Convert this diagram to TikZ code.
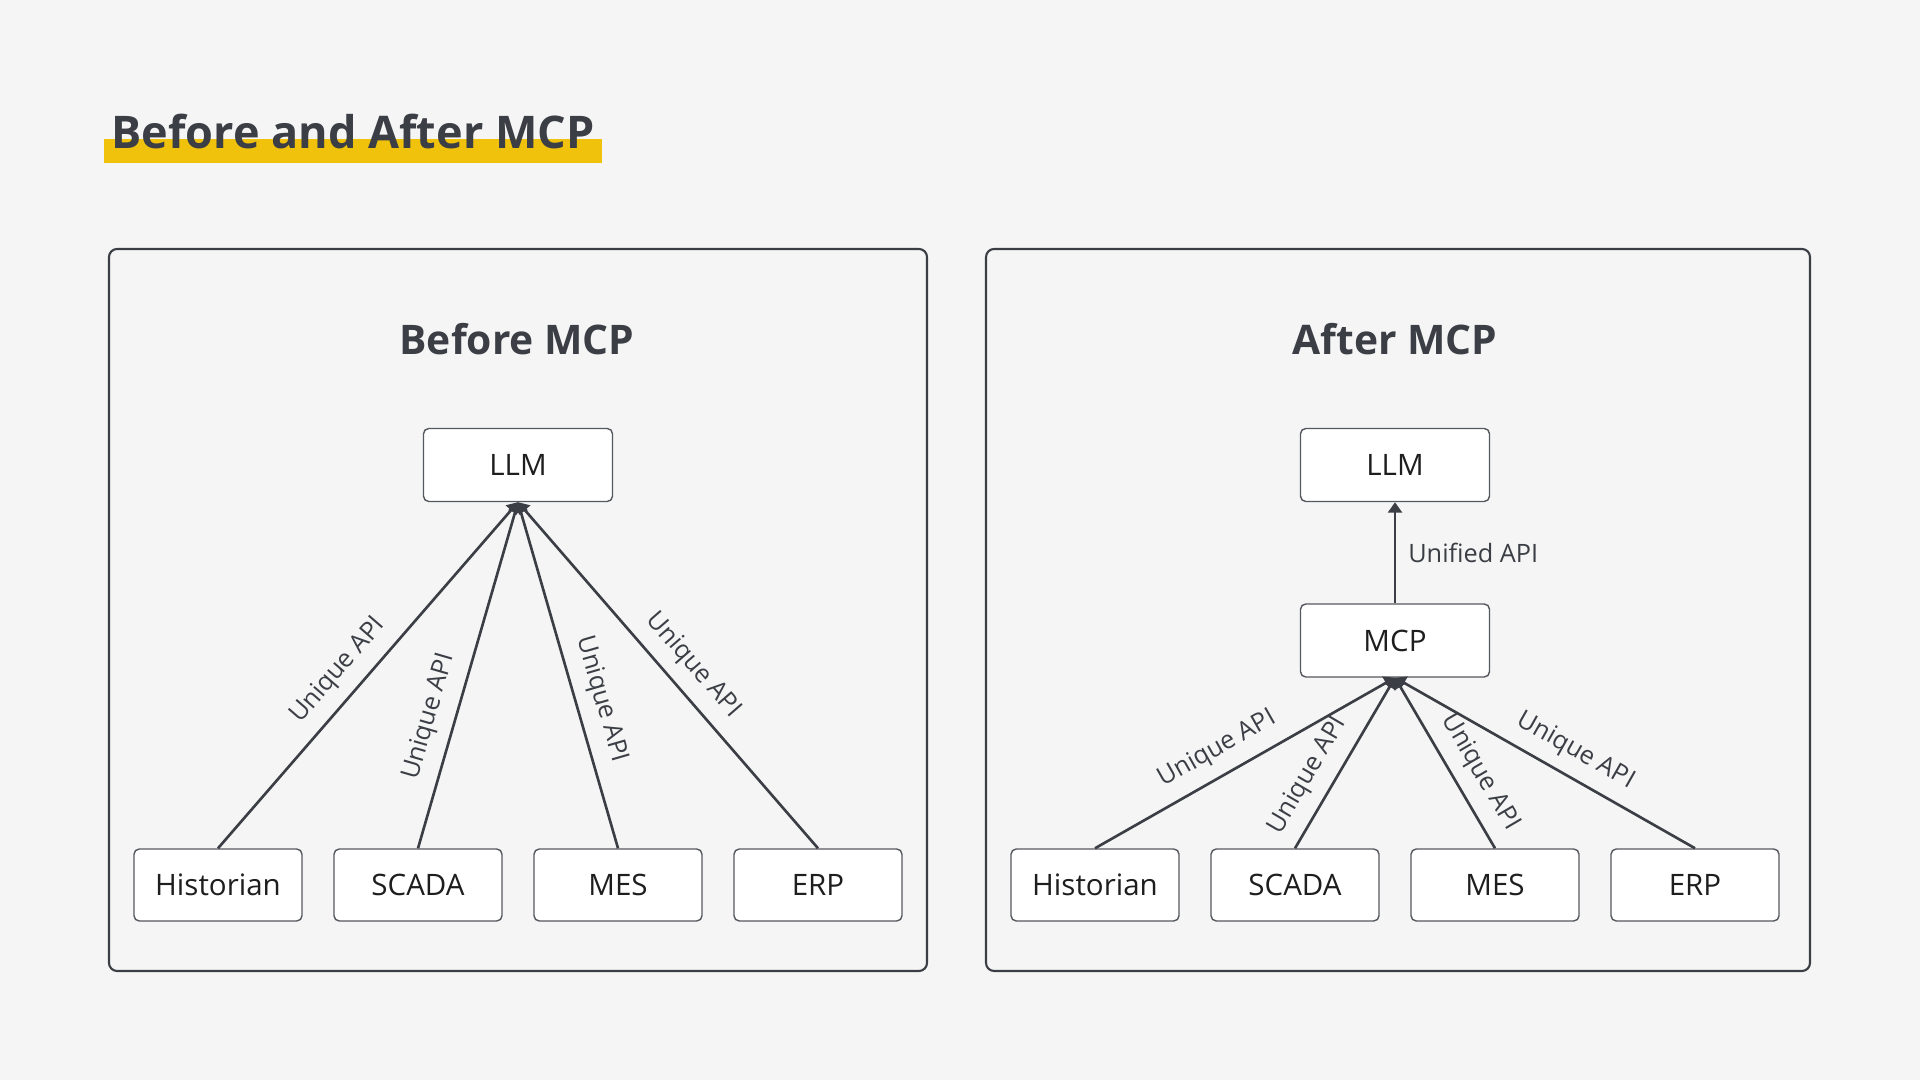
\documentclass[tikz,border=0pt]{standalone}
\usepackage{fontspec}
\setmainfont{Open Sans}
\usepackage{xcolor}
\definecolor{mcpbg}{HTML}{F5F5F5}
\definecolor{mcpdark}{HTML}{3B3E45}
\definecolor{mcpyellow}{HTML}{F0C20C}
\definecolor{mcpframe}{HTML}{55585E}
\definecolor{mcptext}{HTML}{1E1E1E}
\usetikzlibrary{arrows.meta}

\tikzset{
  sysbox/.style={draw=mcpframe, line width=0.4pt, fill=white, rounded corners=1.5pt,
    minimum width=1.68cm, minimum height=0.72cm, inner sep=0pt,
    font=\fontsize{8.4}{10}\selectfont, text=mcptext},
  topbox/.style={sysbox, minimum width=1.89cm, minimum height=0.73cm},
  apilink/.style={draw=mcpdark, line width=0.75pt, -{Triangle[width=4pt,length=3pt]}},
  apilabel/.style={font=\fontsize{7.2}{9}\selectfont, text=mcpdark, sloped, above, inner sep=3.4pt},
  panel/.style={draw=mcpdark, line width=0.6pt, rounded corners=2.3pt},
  paneltitle/.style={font=\bfseries\fontsize{11.6}{14}\selectfont, text=mcpdark, anchor=base, inner sep=0pt},
}

\begin{document}
\begin{tikzpicture}
  % Background
  \fill[mcpbg] (0,0) rectangle (19.2,10.8);
  \useasboundingbox (0,0) rectangle (19.2,10.8);

  % Title with marker bar
  \fill[mcpyellow] (1.04,9.17) rectangle (6.02,9.41);
  \node[anchor=base west, inner sep=0pt, font=\bfseries\fontsize{12.8}{15}\selectfont, text=mcpdark] (title) at (1.11,9.315) {Before and After MCP};

  % Before MCP panel
  \draw[panel] (1.09,1.09) rectangle (9.27,8.31);
  \node[paneltitle] (beforetitle) at (5.17,7.25) {Before MCP};
  \node[topbox] (llmA) at (5.18,6.15) {LLM};
  \foreach \sys [count=\i] in {Historian,SCADA,MES,ERP}
    \node[sysbox] (sysA\i) at ({0.18+2*\i},1.95) {\sys};
  \draw[apilink] (sysA1.north) -- node[apilabel, pos=0.465] {Unique API} (llmA.south);
  \draw[apilink] (sysA2.north) -- node[apilabel, pos=0.36] {Unique API} (llmA.south);
  \draw[apilink] (sysA3.north) -- node[apilabel, pos=0.41] {Unique API} (llmA.south);
  \draw[apilink] (sysA4.north) -- node[apilabel, pos=0.48] {Unique API} (llmA.south);

  % After MCP panel
  \draw[panel] (9.86,1.09) rectangle (18.10,8.31);
  \node[paneltitle] (aftertitle) at (13.95,7.25) {After MCP};
  \node[topbox] (llmB) at (13.95,6.15) {LLM};
  \node[topbox] (mcp) at (13.95,4.395) {MCP};
  \foreach \sys [count=\i] in {Historian,SCADA,MES,ERP}
    \node[sysbox] (sysB\i) at ({8.95+2*\i},1.95) {\sys};
  \draw[apilink] (mcp.north) -- node[midway, right, inner sep=3.4pt, font=\fontsize{7.2}{9}\selectfont, text=mcpdark] {Unified API} (llmB.south);
  \draw[apilink] (sysB1.north) -- node[apilabel, pos=0.45] {Unique API} (mcp.south);
  \draw[apilink] (sysB2.north) -- node[apilabel, pos=0.35] {Unique API} (mcp.south);
  \draw[apilink] (sysB3.north) -- node[apilabel, pos=0.37] {Unique API} (mcp.south);
  \draw[apilink] (sysB4.north) -- node[apilabel, pos=0.44] {Unique API} (mcp.south);
\end{tikzpicture}
\end{document}
